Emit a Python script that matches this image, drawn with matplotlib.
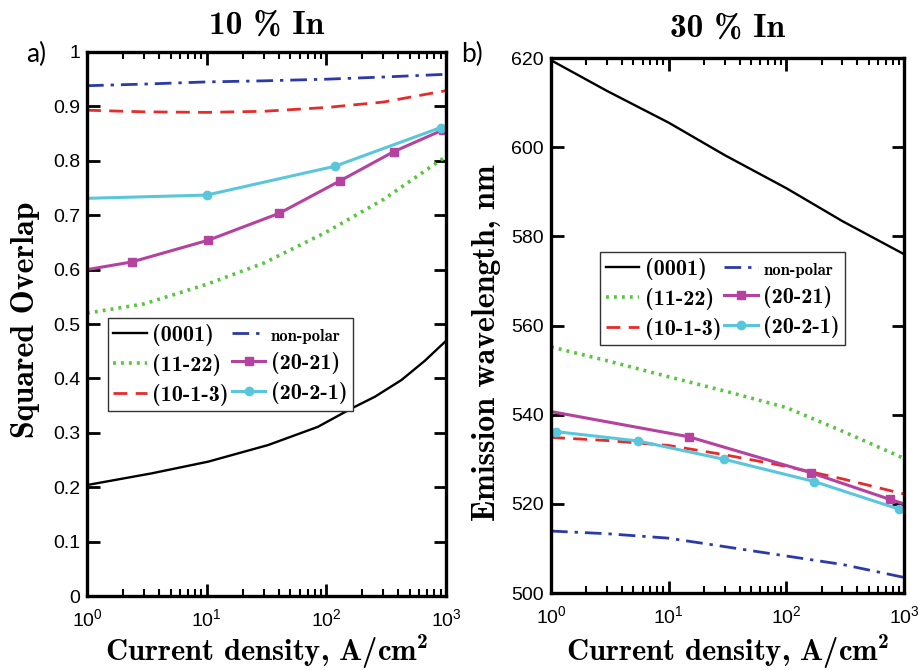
import numpy as np
import matplotlib
matplotlib.use("Agg")
import matplotlib.pyplot as plt
from matplotlib.ticker import FixedLocator, LogLocator, NullFormatter

# ---- data: 10 % In (squared overlap) ----
xa = [1, 3, 10, 30, 100, 300, 1000]
xa_0001 = [1, 3.47, 10.3, 32.7, 85, 163, 255, 424, 667, 1000]
a_0001 = [0.204, 0.2255, 0.247, 0.2776, 0.311, 0.345, 0.3664, 0.397, 0.4326, 0.469]
a_nonpolar = [0.938, 0.941, 0.945, 0.947, 0.950, 0.954, 0.959]
a_10m13 = [0.893, 0.890, 0.889, 0.891, 0.898, 0.908, 0.929]
a_1122 = [0.52, 0.537, 0.573, 0.612, 0.669, 0.729, 0.808]
xa_2021 = [1, 2.36, 10.3, 40.4, 131, 367, 948]
a_2021 = [0.600, 0.614, 0.654, 0.7035, 0.7635, 0.817, 0.857]
xa_202m1 = [1, 10, 118, 900]
a_202m1 = [0.731, 0.737, 0.790, 0.861]

# ---- data: 30 % In (emission wavelength, nm) ----
xb = [1, 3, 10, 30, 100, 300, 1000]
b_0001 = [619.5, 612.6, 605.5, 598.2, 590.8, 583.4, 576]
b_nonpolar = [513.9, 513.3, 512.3, 510.4, 508.3, 506.4, 503.5]
b_10m13 = [534.9, 534.2, 533.1, 531.0, 528.4, 525.6, 522.2]
b_1122 = [555.2, 552.1, 548.5, 545.3, 541.6, 536.3, 530.2]
xb_2021 = [1, 14.8, 161, 759, 1000]
b_2021 = [540.7, 535.05, 527.0, 521.0, 520.0]
xb_202m1 = [1.1, 5.5, 29.5, 173, 910]
b_202m1 = [536.2, 534.1, 530.0, 525.0, 518.8]

labels = ["(0001)", "(11-22)", "(10-1-3)", "non-polar", "(20-21)", "(20-2-1)"]

c_black = "#000000"
c_green = "#58c640"
c_red = "#e62b2b"
c_blue = "#2b3aa8"
c_mag = "#b5429f"
c_cyan = "#5ac6dc"

serif_b = "cmb10"
tick_font = "Liberation Sans"

fig = plt.figure(figsize=(9.19, 6.70), dpi=100)
ax1 = fig.add_axes([0.0947, 0.1104, 0.3906, 0.812])
ax2 = fig.add_axes([0.5996, 0.1149, 0.3841, 0.7985])


def draw(ax, x0001, s0001, x, s1122, s10m13, snp, x2021, s2021, x202m1, s202m1, me2021, me202m1):
    h = []
    h += ax.plot(x0001, s0001, color=c_black, lw=1.7)
    h += ax.plot(x, s1122, color=c_green, lw=2.6, linestyle=(0, (0.8, 1.4)))
    h += ax.plot(x, s10m13, color=c_red, lw=2.0, linestyle=(0, (5, 3)))
    h += ax.plot(x, snp, color=c_blue, lw=2.0, linestyle=(0, (6, 2.5, 1.2, 2.5)))
    h += ax.plot(x2021, s2021, color=c_mag, lw=2.2, marker="s", ms=6, markevery=me2021)
    h += ax.plot(x202m1, s202m1, color=c_cyan, lw=2.2, marker="o", ms=6, markevery=me202m1)
    return h


h1 = draw(ax1, xa_0001, a_0001, xa, a_1122, a_10m13, a_nonpolar, xa_2021, a_2021,
          xa_202m1, a_202m1, list(range(1, 7)), [1, 2, 3])
h2 = draw(ax2, xb, b_0001, xb, b_1122, b_10m13, b_nonpolar, xb_2021, b_2021,
          xb_202m1, b_202m1, [1, 2, 3], list(range(5)))

for ax in (ax1, ax2):
    ax.set_xscale("log")
    ax.set_xlim(1, 1000)
    ax.xaxis.set_major_locator(FixedLocator([1, 10, 100, 1000]))
    ax.xaxis.set_minor_locator(LogLocator(base=10, subs=np.arange(2, 10)))
    ax.xaxis.set_minor_formatter(NullFormatter())
    ax.set_xticklabels([r"$\mathdefault{10^{%d}}$" % k for k in range(4)])
    ax.tick_params(which="both", direction="in", top=True, right=True,
                   labelsize=14, labelfontfamily=tick_font)
    ax.tick_params(which="major", length=9, width=2)
    ax.tick_params(which="minor", length=5, width=1.5)
    ax.tick_params(axis="x", pad=9)
    ax.tick_params(axis="y", pad=5)
    for sp in ax.spines.values():
        sp.set_linewidth(2.4)
    ax.set_xlabel(r"Current density, A/cm$^{\mathdefault{2}}$",
                  fontfamily=serif_b, fontsize=22)

ax1.set_ylim(0, 1)
ax1.set_yticks(np.arange(0, 1.01, 0.1))
ax1.set_yticklabels(["0", "0.1", "0.2", "0.3", "0.4", "0.5", "0.6", "0.7", "0.8", "0.9", "1"])
ax2.set_ylim(500, 620)
ax2.set_yticks([500, 520, 540, 560, 580, 600, 620])

ax1.xaxis.set_label_coords(0.5, -0.066)
ax2.xaxis.set_label_coords(0.5, -0.073)

ax1.set_ylabel("Squared Overlap", fontfamily=serif_b, fontsize=23)
ax2.set_ylabel("Emission wavelength, nm", fontfamily=serif_b, fontsize=23)
ax1.yaxis.set_label_coords(-0.132, 0.507)
ax2.yaxis.set_label_coords(-0.141, 0.467)

ax1.set_title("10 % In", fontfamily=serif_b, fontsize=24, pad=13)
ax2.set_title("30 % In", fontfamily=serif_b, fontsize=24, pad=15)

fig.text(0.039, 0.919, "a)", fontfamily="Lato", fontsize=19, ha="center", va="center")
fig.text(0.514, 0.919, "b)", fontfamily="Lato", fontsize=19, ha="center", va="center")

for ax, h, anchor in ((ax1, h1, (0.058, 0.511)), (ax2, h2, (0.139, 0.637))):
    leg = ax.legend(h, labels, ncol=2, loc="upper left", bbox_to_anchor=anchor,
                    borderaxespad=0, fancybox=False, framealpha=1,
                    edgecolor="#333333", prop={"family": serif_b, "size": 16},
                    handlelength=1.5, handletextpad=0.25, columnspacing=0.15,
                    labelspacing=0.36, borderpad=0.25, markerscale=1.0)
    leg.get_frame().set_linewidth(1.0)
    leg.get_texts()[3].set_fontsize(12)

fig.savefig("out.png", dpi=100)
